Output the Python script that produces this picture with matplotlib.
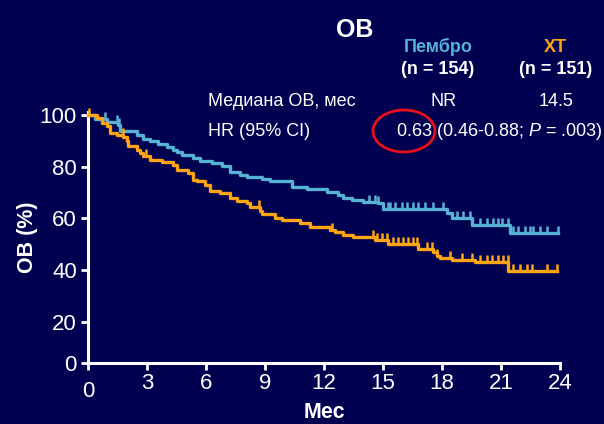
import numpy as np
import matplotlib
matplotlib.use("Agg")
import matplotlib.pyplot as plt
from matplotlib.patches import Ellipse

plt.rcParams['font.family'] = ['Liberation Sans', 'DejaVu Sans']
plt.rcParams['mathtext.fontset'] = 'custom'
plt.rcParams['mathtext.rm'] = 'Liberation Sans'
plt.rcParams['mathtext.it'] = 'Liberation Sans:italic'

# ---- data ----
pembro_t = [0, 0.36, 0.95, 1.53, 1.63, 2.48, 2.80, 3.15, 3.56, 4.02, 4.32, 4.52, 4.78, 5.34,
            5.69, 6.30, 6.81, 7.22, 7.73, 8.08, 8.85, 9.25, 10.36, 11.12, 12.14, 12.71, 12.96,
            13.41, 13.98, 14.74, 15.0, 18.24, 18.49, 19.51, 21.45, 23.9]
pembro_s = [100, 98.5, 97.3, 96.2, 94.0, 92.4, 90.7, 90.0, 88.8, 87.6, 86.6, 85.7, 84.6, 83.4,
            82.1, 81.4, 80.2, 78.0, 76.8, 76.1, 75.1, 74.5, 72.3, 71.3, 70.4, 69.2, 68.1,
            67.2, 66.5, 65.8, 63.5, 62.0, 60.0, 57.5, 54.2, 54.2]
pembro_cens = [0.86, 1.49, 1.59, 14.29, 14.59, 14.74, 15.25, 15.35, 15.61, 15.95, 16.2, 16.52,
               16.78, 17.13, 17.54, 18.05, 18.74, 19.06, 19.42, 19.93, 20.27, 20.59, 20.84,
               21.03, 21.35, 21.61, 21.86, 22.22, 22.47, 22.62, 22.98, 23.32, 23.89]

xt_t = [0, 0.44, 0.70, 0.95, 1.12, 1.46, 1.79, 1.97, 2.05, 2.48, 2.64, 2.81, 3.15, 3.75, 4.34,
        4.51, 5.10, 5.35, 5.53, 5.95, 6.20, 6.71, 7.22, 7.56, 8.07, 8.24, 8.74, 8.83, 9.51,
        9.85, 10.78, 11.29, 12.30, 12.56, 12.98, 13.46, 14.59, 15.25, 16.79, 17.54, 17.73,
        17.90, 18.49, 19.67, 21.37, 23.83]
xt_s = [100, 99.0, 96.9, 95.6, 93.0, 92.4, 91.4, 89.8, 87.9, 86.6, 85.3, 84.3, 82.7, 81.8, 80.8,
        78.8, 77.6, 75.0, 74.4, 73.0, 70.5, 69.8, 67.9, 66.9, 66.1, 64.5, 63.0, 61.6, 60.3,
        59.4, 58.3, 56.8, 55.6, 54.7, 53.8, 52.8, 51.5, 50.2, 48.1, 47.1, 45.6, 44.6, 43.9,
        43.2, 39.8, 39.8]
xt_cens = [0.05, 1.78, 2.93, 8.69, 12.39, 14.49, 14.68, 14.93, 15.19, 15.5, 15.76, 16.01, 16.27,
           16.52, 16.71, 17.22, 17.47, 17.73, 18.4, 19.0, 19.51, 19.93, 20.27, 20.52, 20.84,
           21.1, 21.35, 21.61, 21.96, 22.3, 22.56, 23.32, 23.83]

x_ticks = [0, 3, 6, 9, 12, 15, 18, 21, 24]
y_ticks = [0, 20, 40, 60, 80, 100]

BG = '#000050'
BLUE = '#57B2D4'
ORANGE = '#FFA412'

W, H = 604, 424
fig = plt.figure(figsize=(W / 100, H / 100), dpi=100, facecolor=BG)


def fx(px):
    return px / W


def fy(py):
    return 1 - py / H


ax = fig.add_axes([fx(88), fy(363), fx(560) - fx(88), fy(112.4) - fy(363)])
ax.set_facecolor(BG)

k = 41.0 / 51.7


def fwd(y):
    y = np.asarray(y, dtype=float)
    return np.where(y >= 20, y, 20 - (20 - y) * k)


def inv(z):
    z = np.asarray(z, dtype=float)
    return np.where(z >= 20, z, 20 - (20 - z) / k)


ax.set_yscale('function', functions=(fwd, inv))
ax.set_xlim(0, 24)
ax.set_ylim(0, 101)

tick_marker = [(0, 0), (0, 1)]


def draw(t, s, cens, color):
    ax.step(t, s, where='post', color=color, lw=2.4, clip_on=False, zorder=3)
    t_arr = np.asarray(t)
    s_arr = np.asarray(s)
    idx = np.searchsorted(t_arr, cens, side='right') - 1
    ax.plot(cens, s_arr[idx], linestyle='none', marker=tick_marker, markersize=10,
            markeredgewidth=1.8, color=color, clip_on=False, zorder=3)


draw(pembro_t, pembro_s, pembro_cens, BLUE)
draw(xt_t, xt_s, xt_cens, ORANGE)

for side in ['top', 'right']:
    ax.spines[side].set_visible(False)
for side in ['left', 'bottom']:
    ax.spines[side].set_color('white')
    ax.spines[side].set_linewidth(2.2)

ax.set_xticks(x_ticks)
ax.set_yticks(y_ticks)
ax.tick_params(axis='both', colors='white', labelcolor='white', labelsize=16,
               width=2, length=5)
ax.tick_params(axis='x', pad=2)
ax.tick_params(axis='y', pad=3)
ax.xaxis.get_major_ticks()[0].set_pad(8)

ax.set_ylabel('ОВ (%)', color='white', fontsize=15.5, fontweight='bold', labelpad=1)
ax.set_xlabel('Мес', color='white', fontsize=15.5, fontweight='bold', labelpad=0)

# annotations
fig.text(fx(355), fy(30), 'ОВ', color='white', fontsize=18, fontweight='bold',
         ha='center', va='center')
fig.text(fx(438), fy(47), 'Пембро', color=BLUE, fontsize=13, fontweight='bold',
         ha='center', va='center')
fig.text(fx(438), fy(69), '(n = 154)', color='white', fontsize=13, fontweight='bold',
         ha='center', va='center')
fig.text(fx(555), fy(47), 'ХТ', color=ORANGE, fontsize=13, fontweight='bold',
         ha='center', va='center')
fig.text(fx(556), fy(69), '(n = 151)', color='white', fontsize=13, fontweight='bold',
         ha='center', va='center')
fig.text(fx(208), fy(101), 'Медиана ОВ, мес', color='white', fontsize=13,
         ha='left', va='center')
fig.text(fx(444), fy(101), 'NR', color='white', fontsize=13, ha='center', va='center')
fig.text(fx(556), fy(101), '14.5', color='white', fontsize=13, ha='center', va='center')
fig.text(fx(208), fy(131), 'HR (95% CI)', color='white', fontsize=13,
         ha='left', va='center')
fig.text(fx(603), fy(131), r'0.63 (0.46-0.88; $\it{P}$ = .003)', color='white',
         fontsize=13, ha='right', va='center')

ell = Ellipse((fx(404), fy(131)), 62 / W, 42 / H, transform=fig.transFigure,
              fill=False, edgecolor='#E8101A', lw=2)
fig.patches.append(ell)

fig.savefig('out.png', dpi=100, facecolor=BG)
